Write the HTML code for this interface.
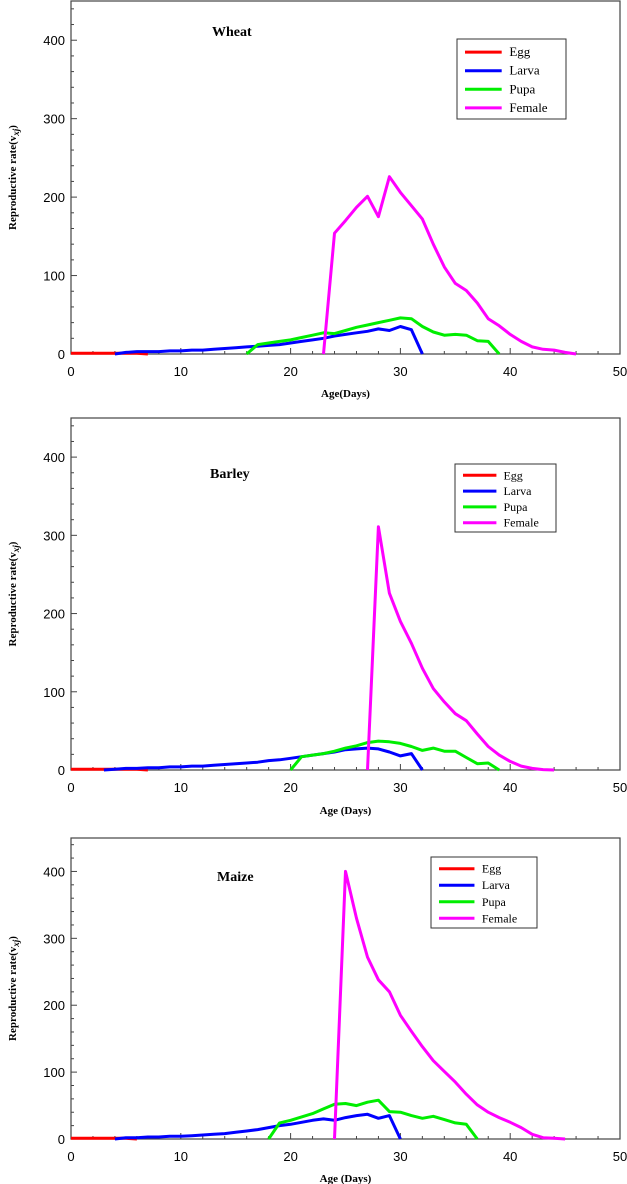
<!DOCTYPE html>
<html><head><meta charset="utf-8"><style>
html,body{margin:0;padding:0;background:#fff}
svg{display:block}
</style></head><body>
<svg id="c" width="627" height="1184" xmlns="http://www.w3.org/2000/svg"></svg>
<script>
const ages = n => Array.from({length:n[1]-n[0]+1},(_,i)=>n[0]+i);
// Wheat
const wheatEggX = ages([0,7]);
const wheatEgg = [1,1,1,1,1,1,1,0];
const wheatLarvaX = ages([4,32]);
const wheatLarva = [0,2,2,3,3,3,4,4,5,5,6,7,8,9,10,11,12,14,16,18,20,23,25,27,29,32,30,35,31,0].slice(1).map((v,i)=>i===0?0:v).slice(0,28).concat([0]);
const wheatPupaX = ages([16,39]);
const wheatPupa = [0,12,14,16,18,21,24,27,26,30,34,37,40,43,46,45,35,28,24,25,24,17,16,0];
const wheatFemaleX = ages([23,46]);
const wheatFemale = [0,154,170,187,201,175,226,206,189,172,140,111,90,81,65,45,36,25,16,9,6,5,2,0];
// Barley
const barleyEggX = ages([0,7]);
const barleyEgg = [1,1,1,1,1,1,1,0];
const barleyLarvaX = ages([3,32]);
const barleyLarva = [0,1,2,2,3,3,4,4,5,5,6,7,8,9,10,12,13,15,17,19,21,23,26,27,28,27,23,18,21,0];
const barleyPupaX = ages([20,39]);
const barleyPupa = [0,17,19,21,24,28,31,35,37,36,34,30,25,28,24,24,16,8,9,0];
const barleyFemaleX = ages([27,44]);
const barleyFemale = [0,311,226,190,162,130,104,87,72,63,46,30,19,11,5,2,0.5,0];
// Maize
const maizeEggX = ages([0,6]);
const maizeEgg = [1,1,1,1,1,1,0];
const maizeLarvaX = ages([4,30]);
const maizeLarva = [0,2,2,3,3,4,4,5,6,7,8,10,12,14,17,20,22,25,28,30,28,32,35,37,31,35,0];
const maizePupaX = ages([18,37]);
const maizePupa = [0,24,28,33,38,45,52,53,50,55,58,41,40,35,31,34,29,24,22,0];
const maizeFemaleX = ages([24,45]);
const maizeFemale = [0,400,330,272,238,220,185,161,138,117,101,85,67,51,40,32,25,17,7,2,1,0];
const xTicks = [0,10,20,30,40,50];
const yTicks = [0,100,200,300,400];
</script>
<script>
// override wheat larva with explicit 29 values (ages 4..32)
wheatLarva.length = 0;
[0,2,3,3,3,4,4,5,5,6,7,8,9,10,11,12,14,16,18,20,23,25,27,29,32,30,35,31,0].forEach(v=>wheatLarva.push(v));

const NS="http://www.w3.org/2000/svg";
const svg=document.getElementById('c');
function mk(tag,attrs,parent,text){const e=document.createElementNS(NS,tag);for(const k in attrs)e.setAttribute(k,attrs[k]);if(text!==undefined)e.textContent=text;(parent||svg).appendChild(e);return e;}

const panels=[
 {name:'wheat',title:'Wheat',y0:354,top:1,tx:212,ty:36,xt:'Age(Days)',xty:397,leg:[457,39,109,80],
  s:[[wheatEggX,wheatEgg],[wheatLarvaX,wheatLarva],[wheatPupaX,wheatPupa],[wheatFemaleX,wheatFemale]]},
 {name:'barley',title:'Barley',y0:770,top:418,tx:210,ty:478,xt:'Age (Days)',xty:814,leg:[455,464,101,68],
  s:[[barleyEggX,barleyEgg],[barleyLarvaX,barleyLarva],[barleyPupaX,barleyPupa],[barleyFemaleX,barleyFemale]]},
 {name:'maize',title:'Maize',y0:1139,top:838,tx:217,ty:881,xt:'Age (Days)',xty:1182,leg:[431,857,106,71],
  s:[[maizeEggX,maizeEgg],[maizeLarvaX,maizeLarva],[maizePupaX,maizePupa],[maizeFemaleX,maizeFemale]]}
];
const colors=['#ff0000','#0000ff','#00ee00','#ff00ff'];
const labels=['Egg','Larva','Pupa','Female'];
const X0=71,X1=620;
panels.forEach(p=>{
  const g=mk('g',{});
  
  
  const ys=(p.y0-p.top)/450;
  const sx=v=>X0+(X1-X0)*v/50, sy=v=>p.y0-v*ys;
  const box=mk('rect',{x:X0,y:p.top,width:X1-X0,height:p.y0-p.top,fill:'none',stroke:'#444','stroke-width':1.2},g);
  
  
  for(let v=0;v<=50;v+=2){const big=v%10===0;mk('line',{x1:sx(v),x2:sx(v),y1:p.y0,y2:p.y0-(big?6:3),stroke:'#444'},g);}
  for(let v=0;v<=440;v+=20){const big=v%100===0;mk('line',{x1:X0,x2:X0+(big?6:3),y1:sy(v),y2:sy(v),stroke:'#444'},g);}
  xTicks.forEach(v=>{const t=mk('text',{x:sx(v),y:p.y0+22,'text-anchor':'middle','font-family':'Liberation Sans, sans-serif','font-size':13},g,String(v));
    });
  yTicks.forEach(v=>{const t=mk('text',{x:X0-6,y:sy(v)+5,'text-anchor':'end','font-family':'Liberation Sans, sans-serif','font-size':13},g,String(v));
    });
  const xt=mk('text',{x:(X0+X1)/2,y:p.xty,'text-anchor':'middle','font-family':'Liberation Serif, serif','font-size':11,'font-weight':'bold'},g,p.xt);
  
  const cy=(p.top+p.y0)/2;
  const yt=mk('text',{x:0,y:0,transform:`translate(16,${cy}) rotate(-90)`,'text-anchor':'middle','font-family':'Liberation Serif, serif','font-size':11,'font-weight':'bold'},g,'Reproductive rate(v');
  mk('tspan',{'font-style':'italic','font-size':9,dy:3},yt,'xj');
  mk('tspan',{dy:-3},yt,')');
  
  const tt=mk('text',{x:p.tx,y:p.ty,'font-family':'Liberation Serif, serif','font-size':14,'font-weight':'bold'},g,p.title);
  
  p.s.forEach((s,i)=>{
    const d=s[0].map((x,j)=>(j?'L':'M')+sx(x).toFixed(1)+','+sy(s[1][j]).toFixed(1)).join('');
    const pa=mk('path',{d:d,fill:'none',stroke:colors[i],'stroke-width':3,'stroke-linejoin':'round'},g);
    
    
  });
  const [lx,ly,lw,lh]=p.leg;
  const lg=mk('g',{},g);
  
  
  mk('rect',{x:lx,y:ly,width:lw,height:lh,fill:'#fff',stroke:'#333','stroke-width':1},lg);
  const step=lh/4.3;
  labels.forEach((l,i)=>{
    const yy=ly+step*(0.65+i)+1;
    mk('line',{x1:lx+8,x2:lx+lw*0.41,y1:yy,y2:yy,stroke:colors[i],'stroke-width':3},lg);
    const t=mk('text',{x:lx+lw*0.48,y:yy+4,'font-family':'Liberation Serif, serif','font-size':lh>75?13:12},lg,l);
    
  });
});
</script>
</body></html>
